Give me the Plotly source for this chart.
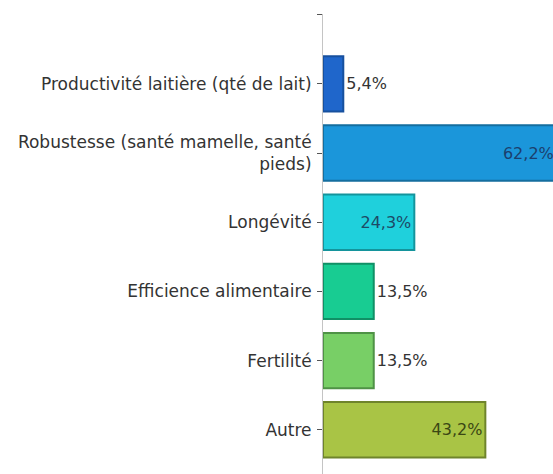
import plotly.graph_objects as go

# Survey answers: share of respondents per breeding criterion (%)
categories = [
    "Productivité laitière (qté de lait)",
    "Robustesse (santé mamelle, santé<br>pieds)",
    "Longévité",
    "Efficience alimentaire",
    "Fertilité",
    "Autre",
]
values = [5.4, 62.2, 24.3, 13.5, 13.5, 43.2]

bar_colors = ["#1F66CB", "#1B96DA", "#1FD0DC", "#18CC92", "#78CF66", "#A9C445"]
edge_colors = ["#17509E", "#146E9F", "#14949C", "#109066", "#4F9246", "#6F842B"]
inside_text_colors = ["#333333", "#1B3F6E", "#1D4A66", "#333333", "#333333", "#3B4714"]

# Short bars carry their label outside, long ones inside at the end
positions = ["inside" if v > 20 else "outside" for v in values]

fig = go.Figure(
    go.Bar(
        x=values,
        y=categories,
        orientation="h",
        width=0.8,
        marker=dict(color=bar_colors, line=dict(color=edge_colors, width=2)),
        texttemplate="%{x:.1f}%",
        textposition=positions,
        insidetextanchor="end",
        textfont=dict(family="DejaVu Sans", size=16, color="#333333"),
        insidetextfont=dict(family="DejaVu Sans", size=16, color=inside_text_colors),
        outsidetextfont=dict(family="DejaVu Sans", size=16, color="#333333"),
        cliponaxis=True,
        hoverinfo="skip",
    )
)

fig.update_layout(
    width=553,
    height=474,
    margin=dict(l=323, r=0, t=14, b=0),
    paper_bgcolor="white",
    plot_bgcolor="white",
    separators=", ",
    showlegend=False,
    bargap=0.2,
)

fig.update_xaxes(
    range=[0, 61.2],
    visible=False,
    showgrid=False,
    zeroline=False,
)

fig.update_yaxes(
    type="category",
    categoryorder="array",
    categoryarray=[" "] + categories,
    range=[6.64, -0.01],
    showline=True,
    linecolor="#C4C4C4",
    linewidth=1,
    ticks="outside",
    ticklen=5,
    tickcolor="#555555",
    showgrid=False,
    zeroline=False,
    tickfont=dict(family="DejaVu Sans", size=17, color="#333333"),
    ticklabelstandoff=2,
)

fig.write_html("out.html")
